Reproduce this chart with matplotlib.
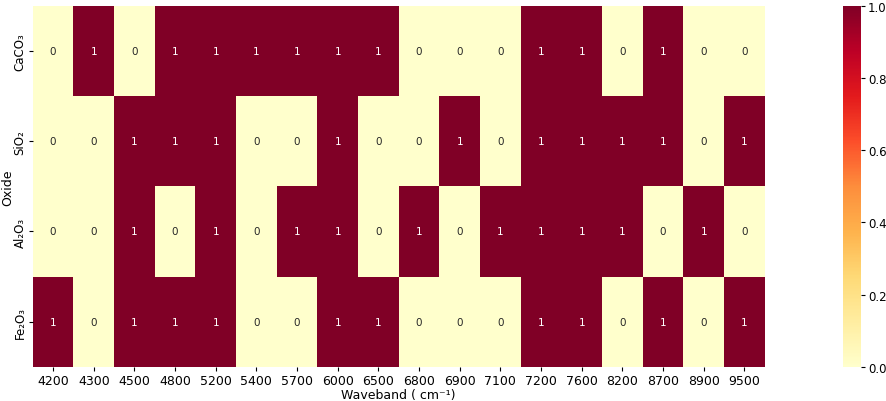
import matplotlib
matplotlib.use("Agg")
import matplotlib.pyplot as plt
import seaborn as sns
import numpy as np

wavebands = ["4200", "4300", "4500", "4800", "5200", "5400", "5700", "6000", "6500",
             "6800", "6900", "7100", "7200", "7600", "8200", "8700", "8900", "9500"]
oxides = ["CaCO₃", "SiO₂", "Al₂O₃", "Fe₂O₃"]
caco3 = [0, 1, 0, 1, 1, 1, 1, 1, 1, 0, 0, 0, 1, 1, 0, 1, 0, 0]
sio2 = [0, 0, 1, 1, 1, 0, 0, 1, 0, 0, 1, 0, 1, 1, 1, 1, 0, 1]
al2o3 = [0, 0, 1, 0, 1, 0, 1, 1, 0, 1, 0, 1, 1, 1, 1, 0, 1, 0]
fe2o3 = [1, 0, 1, 1, 1, 0, 0, 1, 1, 0, 0, 0, 1, 1, 0, 1, 0, 1]

data = np.array([caco3, sio2, al2o3, fe2o3])

fig = plt.figure(figsize=(8.86, 4.02), dpi=100)
ax = fig.add_axes([0.037, 0.085, 0.826, 0.898])
cax = fig.add_axes([0.951, 0.085, 0.021, 0.898])

sns.heatmap(data, ax=ax, cbar_ax=cax, cmap="YlOrRd", vmin=0, vmax=1,
            annot=True, fmt="d", annot_kws={"fontsize": 7.5},
            xticklabels=wavebands, yticklabels=oxides)

ax.set_xlabel("Waveband ( cm⁻¹)", fontsize=9, labelpad=1)
ax.set_ylabel("Oxide", fontsize=9)
ax.yaxis.set_label_coords(-0.025, 0.5)
ax.tick_params(axis="x", labelsize=9, rotation=0, length=3, pad=2)
ax.tick_params(axis="y", labelsize=8.5, length=3, pad=1.5)
for t in ax.get_yticklabels():
    t.set_rotation(90)
    t.set_va("center")
cax.tick_params(labelsize=8.5, length=3, pad=2)

fig.savefig("out.png", dpi=100)
